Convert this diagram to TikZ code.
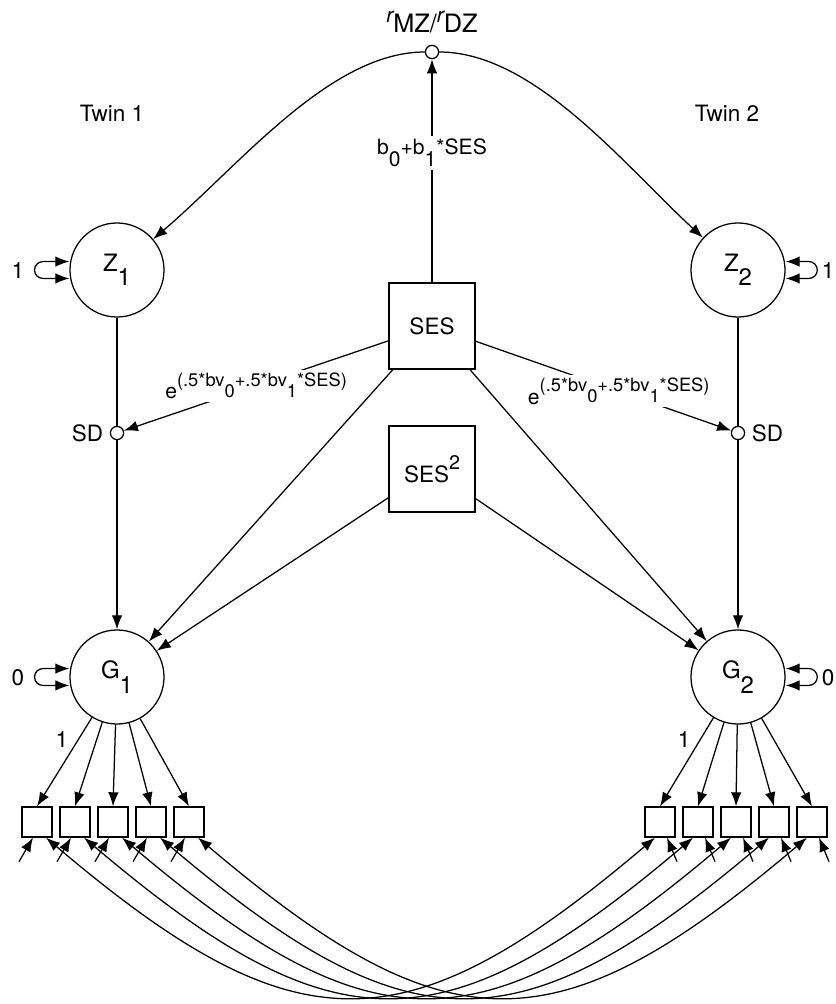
\documentclass[tikz,border=0pt]{standalone}
\usepackage{fontspec}
\setmainfont{TeX Gyre Heros}
\usetikzlibrary{positioning,arrows.meta,calc}
\newcommand{\sbs}[1]{\raisebox{-0.6em}{#1}}
\newcommand{\sps}[1]{\raisebox{0.6em}{#1}}
\tikzset{
    latent/.style={circle,draw,minimum size=2.35cm,inner sep=0pt,font=\fontsize{17}{20}\selectfont},
    obs/.style={rectangle,draw,minimum size=2.15cm,inner sep=0pt,font=\fontsize{16}{19}\selectfont},
    item/.style={rectangle,draw,minimum size=0.75cm,inner sep=0pt},
    dot/.style={circle,draw,fill=white,minimum size=0.33cm,inner sep=0pt},
    lbl/.style={fill=white,inner sep=2pt},
    big/.style={font=\fontsize{16}{19}\selectfont},
}
\begin{document}
\begin{tikzpicture}[x=0.025cm,y=-0.025cm,line width=0.9pt,>={Latex[length=10pt,width=7.5pt]},
    font=\fontsize{15}{18}\selectfont]
    \useasboundingbox (0,0) rectangle (835,1004);

    \node[dot] (top) at (432,52) {};
    \node[font=\fontsize{18}{20}\selectfont] (rlab) at (432,22) {\raisebox{0.4em}{\fontsize{15}{15}\selectfont\itshape r}MZ/\raisebox{0.4em}{\fontsize{15}{15}\selectfont\itshape r}DZ};
    \node[big] (twin1) at (112,113) {Twin 1};
    \node[big] (twin2) at (727,113) {Twin 2};

    \node[latent] (z1) at (117,270) {Z\sbs{1}};
    \node[latent] (z2) at (738,270) {Z\sbs{2}};
    \node[obs] (ses) at (432,326) {SES};
    \node[obs] (ses2) at (432,469) {SES\sps{\fontsize{14}{16}\selectfont 2}};
    \node[dot] (sd1) at (117,433) {};
    \node[dot] (sd2) at (738,433) {};
    \node[big,left=1pt of sd1] (sdl1) {SD};
    \node[big,right=1pt of sd2] (sdl2) {SD};
    \node[latent] (g1) at (117,677) {G\sbs{1}};
    \node[latent] (g2) at (738,677) {G\sbs{2}};

    \node[big] (vz1) at (18,271) {1};
    \node[big] (vz2) at (828,271) {1};
    \node[big] (vg1) at (18,678) {0};
    \node[big] (vg2) at (828,678) {0};
    \node[big] (one1) at (62,740) {1};
    \node[big] (one2) at (684,740) {1};

    \foreach \i/\xl/\xr in {1/37/660,2/75/698,3/113/736,4/151/774,5/189/812} {
        \node[item] (a\i) at (\xl,822) {};
        \node[item] (b\i) at (\xr,822) {};
        \coordinate (ea\i) at ($(a\i.south)+(-18,24)$);
        \coordinate (eb\i) at ($(b\i.south)+(17,24)$);
    }

    \draw[->] (ses) -- node[lbl,pos=0.58] {b\sbs{0}+b\sbs{1}*SES} (top);
    \draw[->] (top) .. controls (330,52) and (240,165) .. (z1);
    \draw[->] (top) .. controls (534,52) and (624,165) .. (z2);

    \draw[<->] ([yshift=6pt]z1.west) -- ++(-0.66cm,0) arc[start angle=90,end angle=270,radius=6pt] -- ([yshift=-6pt]z1.west);
    \draw[<->] ([yshift=6pt]z2.east) -- ++(0.58cm,0) arc[start angle=90,end angle=-90,radius=6pt] -- ([yshift=-6pt]z2.east);
    \draw[<->] ([yshift=6pt]g1.west) -- ++(-0.66cm,0) arc[start angle=90,end angle=270,radius=6pt] -- ([yshift=-6pt]g1.west);
    \draw[<->] ([yshift=6pt]g2.east) -- ++(0.58cm,0) arc[start angle=90,end angle=-90,radius=6pt] -- ([yshift=-6pt]g2.east);

    \draw (z1) -- (sd1);
    \draw (z2) -- (sd2);
    \draw[->] (sd1) -- (g1);
    \draw[->] (sd2) -- (g2);
    \draw[->] (ses) -- node[lbl] {e\sps{\fontsize{13}{15}\selectfont(.5*bv\sbs{0}+.5*bv\sbs{1}*SES)}} (sd1);
    \draw[->] (ses) -- node[lbl,pos=0.56] {e\sps{\fontsize{13}{15}\selectfont(.5*bv\sbs{0}+.5*bv\sbs{1}*SES)}} (sd2);

    \draw[->] (ses) -- (g1);
    \draw[->] (ses) -- (g2);
    \draw[->] (ses2) -- (g1);
    \draw[->] (ses2) -- (g2);

    \foreach \i in {1,...,5} {
        \draw[->] (g1) -- (a\i.north);
        \draw[->] (g2) -- (b\i.north);
        \draw[->] (ea\i) -- ($(a\i.south)+(-4,0)$);
        \draw[->] (eb\i) -- ($(b\i.south)+(7,0)$);
        \draw[<->] ($(a\i.south)+(9,0)$) .. controls +(250,212) and +(-250,212) .. ($(b\i.south)+(-5,0)$);
    }
\end{tikzpicture}
\end{document}
